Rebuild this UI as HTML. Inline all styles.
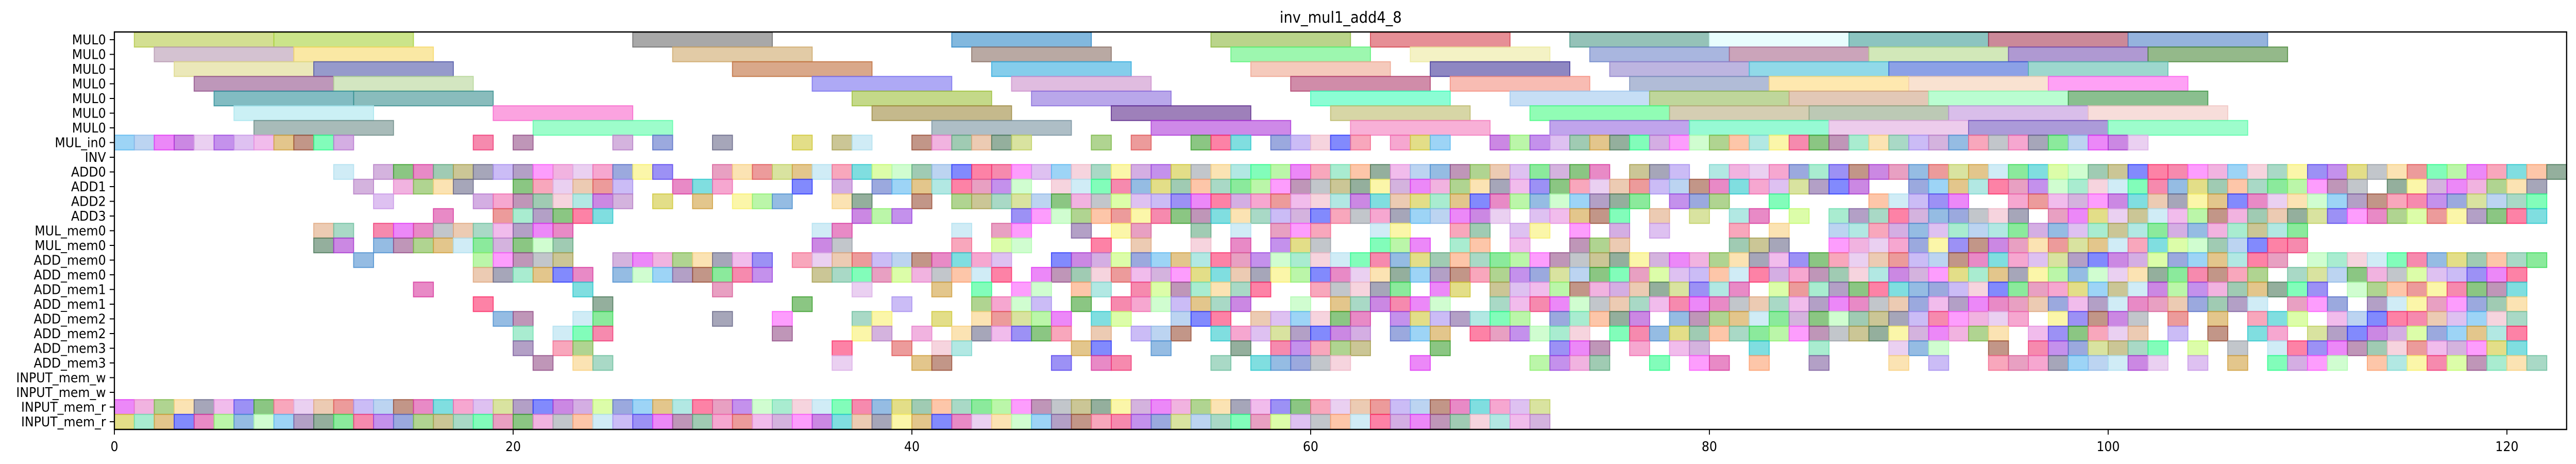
<!DOCTYPE html>
<html><head><meta charset="utf-8"><title>inv_mul1_add4_8</title>
<style>
html,body{margin:0;padding:0;background:#fff;overflow:hidden;width:100vw;height:100vh}
svg{display:block;position:absolute;left:0;top:0;width:100vw;height:100vh}
</style></head>
<body>
<svg id="chart" viewBox="0 0 5495 900" preserveAspectRatio="none" xmlns="http://www.w3.org/2000/svg" font-family="DejaVu Sans, Liberation Sans, sans-serif">
<rect x="0" y="0" width="5495" height="900" fill="#fff"/>
<text x="2860" y="44" font-size="30" text-anchor="middle">inv_mul1_add4_8</text>
<g id="marks"></g>
<g id="axes"></g>
</svg>
<script>
const rowLabels = ["MUL0","MUL0","MUL0","MUL0","MUL0","MUL0","MUL0","MUL_in0","INV","ADD0","ADD1","ADD2","ADD3","MUL_mem0","MUL_mem0","ADD_mem0","ADD_mem0","ADD_mem1","ADD_mem1","ADD_mem2","ADD_mem2","ADD_mem3","ADD_mem3","INPUT_mem_w","INPUT_mem_w","INPUT_mem_r","INPUT_mem_r"];
const xTicks = [0,20,40,60,80,100,120];
const mulDuration = 7;
const mulStarts = [
 [1,8,26,42,55,63,73,80,87,94,101],
 [2,9,28,43,56,65,74,81,88,95,102],
 [3,10,31,44,57,66,75,82,89,96],
 [4,11,35,45,59,67,76,83,90,97],
 [5,12,37,46,60,70,77,84,91,98],
 [6,19,38,50,61,71,78,85,92,99],
 [7,21,41,52,62,72,79,86,93,100]
];
const mulColors = [
 ["#b5c94a","#a8d23c","#6e6e6e","#2f88c8","#8cb83e","#d64550","#4f9a88","#d8fbfb","#3f9c96","#a93a55","#4f80c6"],
 ["#b79ab2","#f6d868","#cfa86a","#8a7065","#5cf27a","#ecea9e","#6f86c9","#a8678c","#b4d98a","#7a55b4","#4d8a3c"],
 ["#ddd88a","#5057a8","#bf6e3c","#33acde","#eea690","#43379a","#9183cb","#48c0d8","#3f63d6","#5cbcae"],
 ["#93528c","#b5d698","#7870ee","#cc8fcc","#b03f6f","#f48f80","#7d90bd","#fdd97a","#f5ceb3","#fe62ee"],
 ["#2f8f9a","#3a9090","#9cbf3a","#8a6ddc","#3dfcb8","#a0c8ee","#95bb58","#cfa386","#8cfbb3","#3c9444"],
 ["#a8e6ef","#f866cc","#9e8a40","#5e2c8c","#bcba6a","#48fc84","#b9ad80","#8fa584","#bf93dc","#f1c6c2"],
 ["#6e8e8a","#5cfca8","#7892a0","#ae3ad8","#f37bbd","#9668e0","#52f7b8","#e1aae0","#7458c0","#5cfcaa"]
];
const cellRanges = {
 7:"0-11,18,20,25,27,30,34,36,37,40-45,49,51,54-56,58-62,64-66,69-101",
 9:"11,13-27,30-74,76-78,80-122",
 10:"12,14-17,20-25,28-30,34,36,38-45,47-87,90-112,114-121",
 11:"13,18-25,27,29,31-33,36,37,40,42-76,78-80,83,88-92,95-121",
 12:"16,19-24,37-39,45-69,71-75,77,79,81,82,84,86-95,97-121",
 13:"10,11,13-22,35,36,42,44,45,48,50,51,54,56,58-60,63,64,67,68,70,71,73,75,77,81,83,86-109",
 14:"10,11,13-22,35,36,42,44,45,49,51,54,56,58-60,63-65,67,68,70,73-75,81-83,86-109",
 15:"12,18-22,25-32,34-44,47-108,110-121",
 16:"18-23,25-32,35-44,46-107,109-120",
 17:"15,23,30,37,41,43,45,46,48,49,51-57,60-64,66,67,69-81,83-110,112-120",
 18:"18,24,34,39,43-46,48,50-56,59,61-66,69-107,109-111,113-120",
 19:"19,20,23,24,30,33,37,38,41,43-47,49,50,53-55,57-62,64-70,72-76,78-95,97-101,103,105,107-109,111-120",
 20:"20,22-24,33,37,38,40,42-47,49,51-53,55-62,64-66,68-73,75-94,96-101,103,105,107,108,110-120",
 21:"20,22,23,36,39,41,42,48,49,52,56,58-62,66,72-74,76,78,79,82,85,89-91,94,96-102,104,106,108-120",
 22:"21,23,24,36,40,41,47,49,50,55,57-61,65,71-74,77,79,80,82,85,89,91,94-102,104,106,108-111,113-121",
 25:"0-71",
 26:"0-71"
};
const palette = ["#8fb8e8","#7fd8d0","#3ddc5a","#5a48ee","#2f3cfc","#2ffc8c","#b780c8","#9a5038","#fc2f6a","#8ef070","#3ea030","#a838d0","#f03c78","#e038f4","#d83ca0","#d8609a","#fc5cfc","#f46c90","#b878d0","#4e90d0","#e880cc","#2cc8cc","#9c48e0","#945088","#dcb0e8","#c4fc70","#d0c838","#7cb848","#f06cb0","#b0fcb0","#9aa0a8","#e0a880","#5870c8","#60a880","#f8d080","#c898e8","#70e0b0","#a8a050","#e05858","#5cb8f0","#fca070","#6a6a8a","#c0d060","#f0b8c8","#4c7a5c","#a890f0","#d0a040","#70c0a0","#e890e0","#8060a0","#b0e0f0","#f8f070"];
function X(u){return 244 + u*42.53;}
function Yt(r){return 62.75 + r*28.5;}
const rowH = 28.5;
const NS="http://www.w3.org/2000/svg";
const marks=document.getElementById('marks');
const axes=document.getElementById('axes');
function mk(tag,attrs,parent){const e=document.createElementNS(NS,tag);for(const k in attrs)e.setAttribute(k,attrs[k]);parent.appendChild(e);return e;}
function parseRanges(s){const out=[];s.split(',').forEach(p=>{const a=p.split('-').map(Number);if(a.length===1)out.push(a[0]);else for(let i=a[0];i<=a[1];i++)out.push(i);});return out;}
mulStarts.forEach((starts,r)=>{starts.forEach((s,i)=>{
 const c=mulColors[r][i%mulColors[r].length];
 const el=mk('rect',{x:X(s),y:Yt(r),width:X(s+mulDuration)-X(s),height:rowH,fill:c,'fill-opacity':0.6,stroke:c,'stroke-opacity':0.85,'stroke-width':2},marks);
 
 
});});
Object.keys(cellRanges).forEach(k=>{const r=Number(k);parseRanges(cellRanges[k]).forEach(u=>{
 const c=palette[((u*7+r*13+((u*r)%5)*3))%palette.length];
 const el=mk('rect',{x:X(u),y:Yt(r),width:X(u+1)-X(u),height:rowH,fill:c,'fill-opacity':0.6,stroke:c,'stroke-opacity':0.85,'stroke-width':2},marks);
 
 
});});
const fr=mk('rect',{x:244,y:62,width:5475-244,height:833-62,fill:'none',stroke:'#000','stroke-width':2.5},axes);


rowLabels.forEach((lab,r)=>{const yc=Yt(r)+rowH/2;
 const t=mk('line',{x1:234,x2:244,y1:yc,y2:yc,stroke:'#000','stroke-width':2},axes);
 
 
 const tx=mk('text',{x:226,y:yc+9,'font-size':26,'text-anchor':'end'},axes);
 tx.textContent=lab;
 
 
});
xTicks.forEach(v=>{const x=X(v);
 const t=mk('line',{x1:x,x2:x,y1:833,y2:843,stroke:'#000','stroke-width':2},axes);
 
 
 const tx=mk('text',{x:x,y:875,'font-size':26,'text-anchor':'middle'},axes);
 tx.textContent=String(v);
 
 
});
</script>
</body></html>
